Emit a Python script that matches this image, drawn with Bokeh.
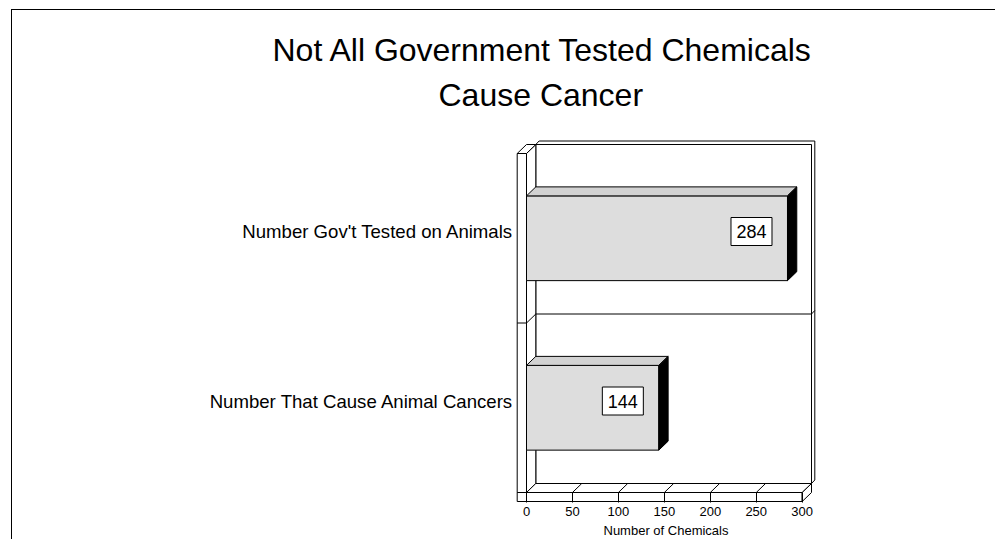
from bokeh.plotting import figure
from bokeh.models import FixedTicker, Title
from bokeh.embed import file_html
from bokeh.resources import INLINE
from bokeh.core.properties import value

# ---------------- data ----------------
categories = ["Number That Cause Animal Cancers", "Number Gov't Tested on Animals"]  # bottom -> top
counts = [144, 284]
x_ticks = [0, 50, 100, 150, 200, 250, 300]
x_title = "Number of Chemicals"
title_lines = ["Not All Government Tested Chemicals", "Cause Cancer"]

# ---------------- layout (pixels) ----------------
W, H = 984, 530
FRAME_L, FRAME_R = 503, 804
FRAME_T, FRAME_B = 105, 492
FRAME_W, FRAME_H = FRAME_R - FRAME_L, FRAME_B - FRAME_T
X_MAX = x_ticks[-1]
PX_X = 275.7 / X_MAX      # px per x unit
PX_Y = 169.5              # px per category row
X0_OFF = 11               # px from frame left to x=0
Y0_OFF = 10               # px from frame bottom to floor front top
FONT = "Liberation Sans"

x_start = -X0_OFF / PX_X
x_end = x_start + FRAME_W / PX_X
y_start = -Y0_OFF / PX_Y
y_end = y_start + FRAME_H / PX_Y

dx, dy = 9.3 / PX_X, 9.0 / PX_Y        # 3-D depth
wall = 9.3 / PX_X                      # left wall thickness
slab = 9.0 / PX_Y                      # floor thickness
rx, ry = 3.3 / PX_X, 3.5 / PX_Y        # back wall rim
BAR_H = 0.5
n = len(categories)

p = figure(width=W, height=H, output_backend="svg", toolbar_location=None,
           x_range=(x_start, x_end), y_range=(y_start, y_end), title=None,
           min_border_left=FRAME_L, min_border_right=W - FRAME_R,
           min_border_top=FRAME_T, min_border_bottom=H - FRAME_B)
p.styles = {"margin-left": "11px", "margin-top": "9px",
            "border-left": "1px solid black", "border-top": "1px solid black"}
p.outline_line_color = None
p.xgrid.visible = False
p.ygrid.visible = False
p.background_fill_color = "white"
p.border_fill_color = "white"

LW = 1
# back wall
p.quad(left=dx, right=X_MAX + dx, bottom=dy, top=n + dy, fill_color="white", line_color="black", line_width=LW)
# rim of back wall
p.patch([dx, dx + rx, X_MAX + dx + rx, X_MAX + dx + rx, X_MAX + dx, X_MAX + dx],
        [n + dy, n + dy + ry, n + dy + ry, dy + ry, dy, n + dy],
        fill_color="white", line_color="black", line_width=LW)
# left wall inner face
p.patch([0, 0, dx, dx], [0, n, n + dy, dy], fill_color="white", line_color="black", line_width=LW)
# left wall front face
p.quad(left=-wall, right=0, bottom=0, top=n, fill_color="white", line_color="black", line_width=LW)
# left wall top
p.patch([-wall, 0, dx, dx - wall], [n, n, n + dy, n + dy], fill_color="white", line_color="black", line_width=LW)
# floor top
p.patch([0, X_MAX, X_MAX + dx, dx], [0, 0, dy, dy], fill_color="white", line_color="black", line_width=LW)
# floor front face
p.quad(left=-wall, right=X_MAX, bottom=-slab, top=0, fill_color="white", line_color="black", line_width=LW)
# floor right side
p.patch([X_MAX, X_MAX, X_MAX + dx, X_MAX + dx], [-slab, 0, dy, dy - slab],
        fill_color="white", line_color="black", line_width=LW)
# floor grid diagonals
inner = x_ticks[1:-1]
p.segment(x0=inner, y0=[0] * len(inner), x1=[t + dx for t in inner], y1=[dy] * len(inner),
          line_color="black", line_width=LW)
# row dividers
for k in range(1, n):
    p.segment(x0=[-wall, 0, dx, X_MAX + dx], y0=[k, k, k + dy, k + dy],
              x1=[0, dx, X_MAX + dx, X_MAX + dx + rx], y1=[k, k + dy, k + dy, k + dy + ry],
              line_color="black", line_width=LW)

# bars
bots = [i + 0.5 - BAR_H / 2 for i in range(n)]
tops = [i + 0.5 + BAR_H / 2 for i in range(n)]
p.quad(left=[0] * n, right=counts, bottom=bots, top=tops, fill_color="#dddddd", line_color="black", line_width=LW)
p.patches(xs=[[0, v, v + dx, dx] for v in counts],
          ys=[[t, t, t + dy, t + dy] for t in tops],
          fill_color="#d2d2d2", line_color="black", line_width=LW)
p.patches(xs=[[v, v, v + dx, v + dx] for v in counts],
          ys=[[b, t, t + dy, b + dy] for b, t in zip(bots, tops)],
          fill_color="black", line_color="black", line_width=LW)

# value boxes
lab_y = [i + 0.5 + 0.75 * dy for i in range(n)]
lab_x = [v - 36 / PX_X for v in counts]
p.rect(x=lab_x, y=lab_y, width=41, height=28, width_units="screen", height_units="screen",
       fill_color="white", line_color="black", line_width=LW)
p.text(x=lab_x, y=lab_y, text=[str(v) for v in counts], text_align="center", text_baseline="middle",
       text_font=value(FONT), text_font_size="18px", text_color="black")

# x axis
xa = p.xaxis[0]
xa.ticker = FixedTicker(ticks=x_ticks)
xa.minor_tick_line_color = None
xa.axis_line_color = None
xa.major_tick_in = 10
xa.major_tick_out = 0
xa.major_tick_line_color = "black"
xa.major_label_standoff = 4
xa.major_label_text_font = FONT
xa.major_label_text_font_size = "13px"
xa.major_label_text_color = "black"
xa.axis_label = x_title
xa.axis_label_standoff = 4
xa.axis_label_text_font = FONT
xa.axis_label_text_font_size = "13px"
xa.axis_label_text_font_style = "normal"
xa.axis_label_text_color = "black"

# y axis (categories)
ya = p.yaxis[0]
ya.ticker = FixedTicker(ticks=lab_y)
ya.major_label_overrides = {t: c for t, c in zip(lab_y, categories)}
ya.minor_tick_line_color = None
ya.major_tick_line_color = None
ya.major_tick_in = 0
ya.major_tick_out = 0
ya.axis_line_color = None
ya.major_label_standoff = 2
ya.major_label_text_font = FONT
ya.major_label_text_font_size = "18.6px"
ya.major_label_text_color = "black"

# titles (second line added first: closest to the frame)
p.add_layout(Title(text=title_lines[1], align="left", offset=-77, standoff=5,
                   text_font=FONT, text_font_size="32px", text_font_style="normal",
                   text_color="black"), "above")
p.add_layout(Title(text=title_lines[0], align="left", offset=-243, standoff=9,
                   text_font=FONT, text_font_size="32px", text_font_style="normal",
                   text_color="black"), "above")

open("out.html", "w").write(file_html(p, INLINE))
